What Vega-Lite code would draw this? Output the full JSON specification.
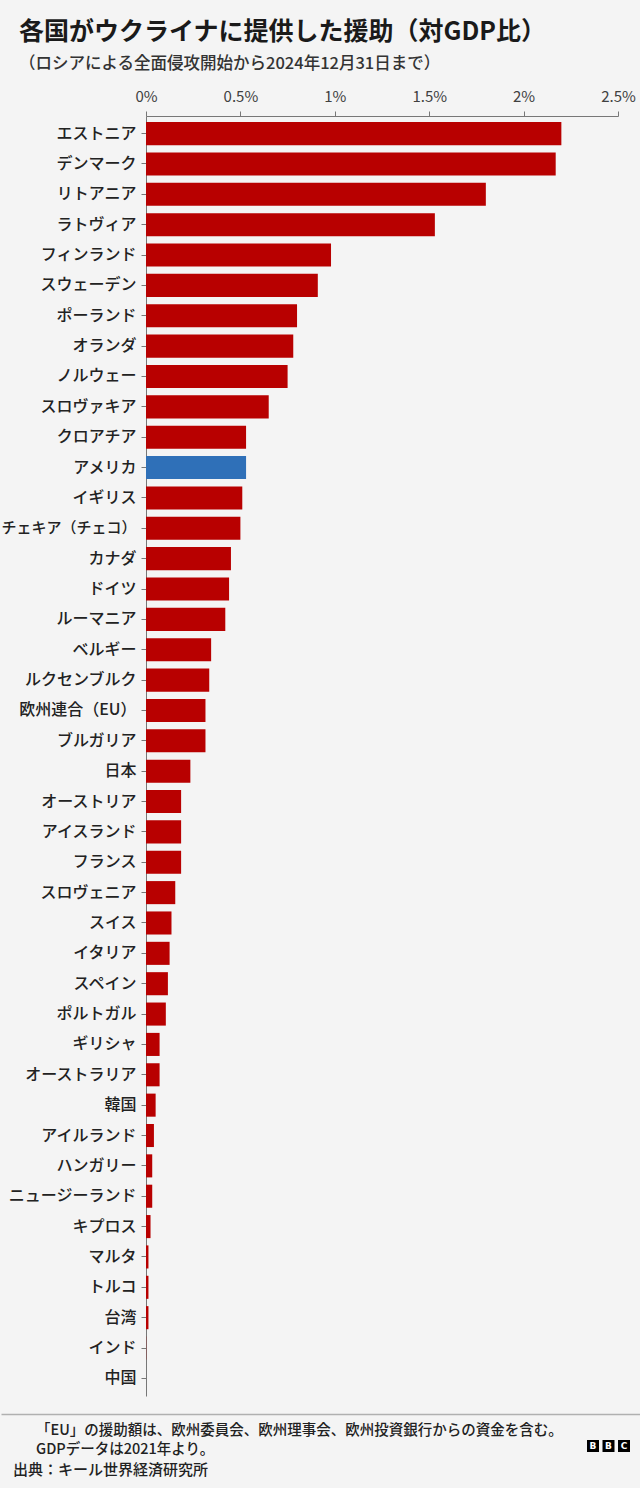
{
  "$schema": "https://vega.github.io/schema/vega-lite/v6.json",
  "background": "#f4f4f4",
  "padding": {"left": 0, "top": 19, "right": 0, "bottom": 10},
  "config": {"view": {"stroke": null}, "font": "Noto Sans CJK JP"},
  "title": {
    "text": "各国がウクライナに提供した援助（対GDP比）",
    "subtitle": "（ロシアによる全面侵攻開始から2024年12月31日まで）",
    "anchor": "start", "frame": "group", "dx": -127, "offset": 17,
    "font": "Noto Sans CJK JP", "fontSize": 25, "fontWeight": "bold", "color": "#1a1a1a",
    "subtitleFont": "Noto Sans CJK JP", "subtitleFontSize": 16.5, "subtitleFontWeight": 500, "subtitleColor": "#333333", "subtitlePadding": 11
  },
  "datasets": {
    "logo": [
      {"key": "b1", "letter": "B"},
      {"key": "b2", "letter": "B"},
      {"key": "c", "letter": "C"}
    ]
  },
  "concat": [
    {
      "width": 472,
      "height": 1280,
      "data": {"values": [
        {"country": "エストニア", "value": 2.20},
        {"country": "デンマーク", "value": 2.17},
        {"country": "リトアニア", "value": 1.80},
        {"country": "ラトヴィア", "value": 1.53},
        {"country": "フィンランド", "value": 0.98},
        {"country": "スウェーデン", "value": 0.91},
        {"country": "ポーランド", "value": 0.80},
        {"country": "オランダ", "value": 0.78},
        {"country": "ノルウェー", "value": 0.75},
        {"country": "スロヴァキア", "value": 0.65},
        {"country": "クロアチア", "value": 0.53},
        {"country": "アメリカ", "value": 0.53},
        {"country": "イギリス", "value": 0.51},
        {"country": "チェキア（チェコ）", "value": 0.50},
        {"country": "カナダ", "value": 0.45},
        {"country": "ドイツ", "value": 0.44},
        {"country": "ルーマニア", "value": 0.42},
        {"country": "ベルギー", "value": 0.345},
        {"country": "ルクセンブルク", "value": 0.335},
        {"country": "欧州連合（EU）", "value": 0.315},
        {"country": "ブルガリア", "value": 0.315},
        {"country": "日本", "value": 0.235},
        {"country": "オーストリア", "value": 0.186},
        {"country": "アイスランド", "value": 0.186},
        {"country": "フランス", "value": 0.186},
        {"country": "スロヴェニア", "value": 0.155},
        {"country": "スイス", "value": 0.135},
        {"country": "イタリア", "value": 0.125},
        {"country": "スペイン", "value": 0.116},
        {"country": "ポルトガル", "value": 0.105},
        {"country": "ギリシャ", "value": 0.072},
        {"country": "オーストラリア", "value": 0.072},
        {"country": "韓国", "value": 0.051},
        {"country": "アイルランド", "value": 0.042},
        {"country": "ハンガリー", "value": 0.033},
        {"country": "ニュージーランド", "value": 0.033},
        {"country": "キプロス", "value": 0.024},
        {"country": "マルタ", "value": 0.013},
        {"country": "トルコ", "value": 0.013},
        {"country": "台湾", "value": 0.013},
        {"country": "インド", "value": 0.001},
        {"country": "中国", "value": 0}
      ]},
      "mark": {"type": "bar"},
      "encoding": {
        "y": {
          "field": "country", "type": "nominal", "sort": null,
          "scale": {"paddingInner": 0.24, "paddingOuter": 0.2},
          "axis": {
            "title": null, "orient": "left", "tickSize": 5, "labelPadding": 5,
            "labelFontSize": {"condition": {"test": "datum.value === 'チェキア（チェコ）'", "value": 15}, "value": 16},
            "labelFontWeight": 500, "labelColor": "#222222", "labelFont": "Noto Sans CJK JP",
            "domainColor": "#777777", "tickColor": "#777777", "minExtent": 145, "labelLimit": 200
          }
        },
        "x": {
          "field": "value", "type": "quantitative",
          "scale": {"domain": [0, 2.5], "nice": false},
          "axis": {"orient": "top", "values": [0, 0.5, 1, 1.5, 2, 2.5], "labelExpr": "datum.value + '%'", "grid": false, "title": null, "tickSize": 5, "labelPadding": 7, "labelFontSize": 15, "labelColor": "#404040", "labelFont": "Noto Sans CJK JP", "labelFlush": false, "labelOverlap": false, "domainColor": "#777777", "tickColor": "#777777"}
        },
        "color": {"condition": {"test": "datum.country === 'アメリカ'", "value": "#2f70b8"}, "value": "#b80000"}
      }
    },
    {
      "title": {"text": "出典：キール世界経済研究所", "orient": "bottom", "anchor": "start", "frame": "group", "dx": -133, "offset": -15, "fontSize": 15, "fontWeight": 500, "color": "#222222", "font": "Noto Sans CJK JP"},
      "vconcat": [
        {
          "width": 495,
          "height": 64,
          "title": {
            "text": ["「EU」の援助額は、欧州委員会、欧州理事会、欧州投資銀行からの資金を含む。", "GDPデータは2021年より。"],
            "orient": "bottom", "anchor": "start", "frame": "group", "dx": -110, "offset": -54,
            "fontSize": 14.5, "fontWeight": 500, "lineHeight": 19, "color": "#222222", "font": "Noto Sans CJK JP"
          },
          "layer": [
            {
              "data": {"values": [{"k": 0.5}]},
              "mark": {"type": "point", "opacity": 0},
              "encoding": {
                "x": {"field": "k", "type": "quantitative", "scale": {"domain": [0, 1], "range": [-145, 495]}, "axis": {"orient": "top", "title": null, "labels": false, "ticks": false, "grid": false, "domainColor": "#b0b0b0", "domainWidth": 1.5}}
              }
            },
            {
              "data": {"name": "logo"},
              "mark": {"type": "square", "size": 144, "color": "#000000", "filled": true, "opacity": 1},
              "encoding": {
                "x": {"field": "key", "type": "nominal", "sort": null, "scale": {"type": "band", "range": [441, 484], "paddingInner": 0.226, "paddingOuter": 0}, "axis": null}
              }
            },
            {
              "data": {"name": "logo"},
              "mark": {"type": "text", "color": "#ffffff", "fontSize": 9, "fontWeight": "bold", "font": "DejaVu Sans"},
              "encoding": {
                "x": {"field": "key", "type": "nominal", "sort": null, "scale": {"type": "band", "range": [441, 484], "paddingInner": 0.226, "paddingOuter": 0}, "axis": null},
                "text": {"field": "letter"}
              }
            }
          ],
          "resolve": {"scale": {"x": "independent"}, "axis": {"x": "independent"}}
        }
      ]
    }
  ],
  "columns": 1,
  "align": "none",
  "spacing": 18
}
